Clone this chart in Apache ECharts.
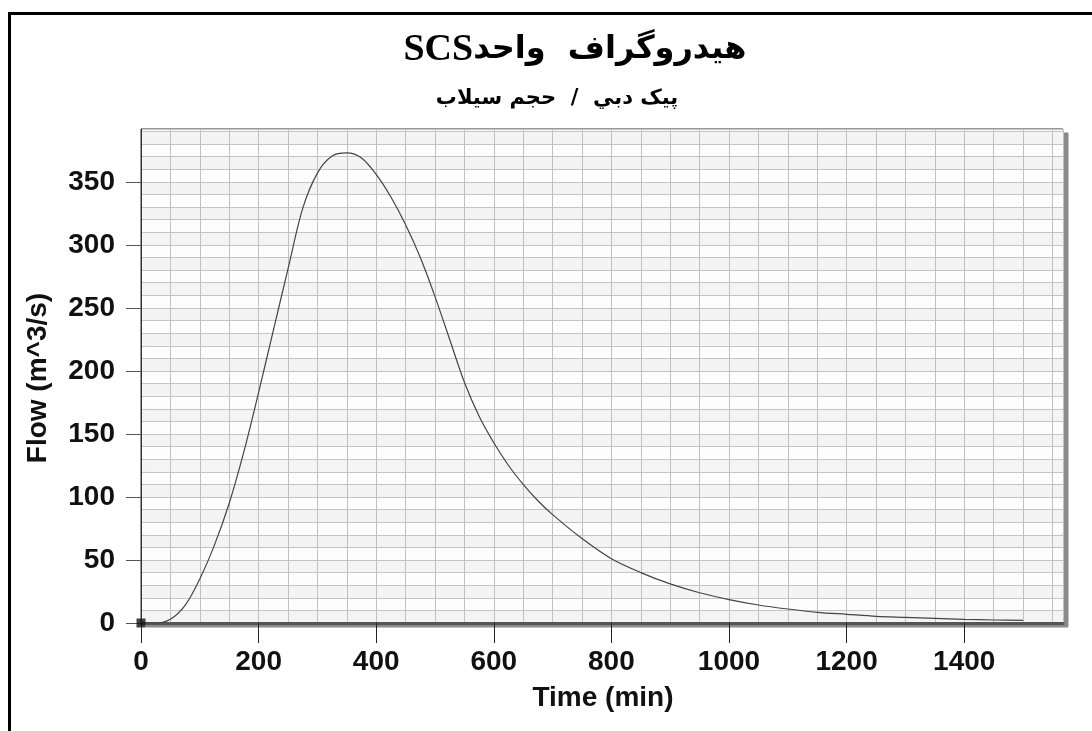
<!DOCTYPE html>
<html>
<head>
<meta charset="utf-8">
<script src="https://cdn.jsdelivr.net/npm/echarts@6/dist/echarts.min.js"></script>
<style>
html,body{margin:0;padding:0;background:#fff;}
#c{width:1092px;height:731px;}
</style>
</head>
<body>
<div id="c"></div>
<script>
const timeMin = [0,25,50,75,100,125,150,175,200,225,250,275,300,325,350,375,400,425,450,475,500,525,550,575,600,625,650,675,700,750,800,850,900,950,1000,1050,1100,1150,1200,1250,1300,1350,1400,1450,1500];
const flow = [0,0,3,14,35,62,95,136,183,232,281,329,357,370.5,373,369,356,338,316,290,259,225,191,164,143,125,110,97,86,67,51,40,31,24,18.6,14.3,11.1,8.5,6.9,5.3,4.5,3.7,2.9,2.4,2.1];
const xTicks = [0,200,400,600,800,1000,1200,1400];
const yTicks = [0,50,100,150,200,250,300,350];
const titleArabic = 'هيدروگراف  واحد';
const titleLatin = 'SCS';
const subTitle = 'پيک دبي  /  حجم سيلاب';
const xName = 'Time (min)';
const yName = 'Flow (m^3/s)';

const X_MAX = 1568, Y_MAX = 392;
const chart = echarts.init(document.getElementById('c'), null, {renderer:'canvas'});
const lineData = timeMin.map((t,i)=>[t, flow[i]]);
const labelFont = {fontFamily:'Liberation Sans, Arial, sans-serif', fontWeight:'bold', fontSize:28, color:'#111'};

chart.setOption({
  animation:false,
  backgroundColor:'#fff',
  grid:{left:141, top:129, right:29, bottom:108, show:true, backgroundColor:'#f8f8f8',
        borderColor:'#333', borderWidth:1, shadowColor:'#8a8a8a', shadowOffsetX:5, shadowOffsetY:4, shadowBlur:0},
  xAxis:[
    {type:'value', min:0, max:X_MAX, position:'bottom',
     axisLine:{show:true, onZero:false, lineStyle:{color:'#555', width:3}},
     axisTick:{show:true, length:20, customValues:xTicks, lineStyle:{color:'#222', width:1}},
     axisLabel:{customValues:xTicks, margin:25, formatter:v=>String(v), ...labelFont},
     splitLine:{show:false}},
    {type:'value', min:0, max:X_MAX, interval:50, position:'top',
     axisLine:{show:false}, axisTick:{show:false}, axisLabel:{show:false},
     splitLine:{show:true, lineStyle:{color:'#c0c0c0', width:1}}}
  ],
  yAxis:[
    {type:'value', min:0, max:Y_MAX, position:'left',
     axisLine:{show:true, onZero:false, lineStyle:{color:'#333', width:1}},
     axisTick:{show:true, length:15, customValues:yTicks, lineStyle:{color:'#555', width:1}},
     axisLabel:{customValues:yTicks, margin:26, formatter:v=>String(v), ...labelFont},
     splitLine:{show:false}},
    {type:'value', min:0, max:Y_MAX, interval:10, position:'right',
     axisLine:{show:false}, axisTick:{show:false}, axisLabel:{show:false},
     splitArea:{show:true, areaStyle:{color:['#f4f4f4','#fdfdfd']}},
     splitLine:{show:true, lineStyle:{color:'#c4c4c4', width:1}}}
  ],
  series:[
    {type:'line', xAxisIndex:0, yAxisIndex:0, data:lineData, smooth:0.3,
     showSymbol:false, lineStyle:{color:'#444', width:1.2}, z:5},
    {type:'scatter', xAxisIndex:0, yAxisIndex:0, data:[lineData[0]], symbol:'rect', symbolSize:9,
     itemStyle:{color:'#111'}, z:6, clip:false}
  ],
  graphic:[
    {type:'rect', shape:{x:9.5, y:13.5, width:1200, height:1000}, style:{fill:null, stroke:'#000', lineWidth:3}, z:100},
    {type:'text', x:575, y:50, z:100, style:{
      text:'{s|'+titleLatin+'}{a|'+titleArabic+'}', align:'center', verticalAlign:'middle',
      rich:{a:{fontFamily:'DejaVu Sans', fontWeight:'bold', fontSize:32, fill:'#000'},
            s:{fontFamily:'Liberation Serif', fontWeight:'bold', fontSize:38, fill:'#000'}}}},
    {type:'text', x:557, y:99, z:100, style:{text:subTitle, align:'center', verticalAlign:'middle',
      fontFamily:'DejaVu Sans', fontWeight:'bold', fontSize:21, fill:'#000'}},
    {type:'text', x:603, y:698, z:100, style:{text:xName, align:'center', verticalAlign:'middle',
      fontFamily:'Liberation Sans', fontWeight:'bold', fontSize:28, fill:'#111'}},
    {type:'text', x:38, y:378, rotation:Math.PI/2, z:100, style:{text:yName, align:'center', verticalAlign:'middle',
      fontFamily:'Liberation Sans', fontWeight:'bold', fontSize:28, fill:'#111'}}
  ]
});
</script>
</body>
</html>
